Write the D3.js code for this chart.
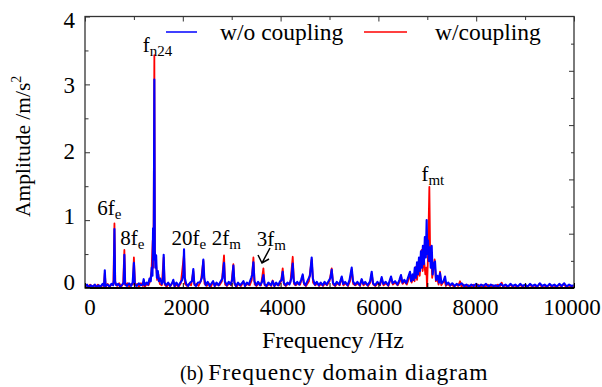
<!DOCTYPE html>
<html>
<head>
<meta charset="utf-8">
<script src="https://cdn.jsdelivr.net/npm/d3@7"></script>
<style>
  body { margin: 0; background: #fff; }
  svg { display: block; font-family: 'Liberation Serif', 'Times New Roman', serif; }
</style>
</head>
<body>
<div class="result"></div>
<script>
// Axis ticks and labels
const xTickLabels = [0, 2000, 4000, 6000, 8000, 10000];
const yTickLabels = [0, 1, 2, 3, 4];
const seriesNames = ['w/o coupling', 'w/coupling'];

// Spectrum without coupling [frequency Hz, amplitude m/s^2]
const woCoupling = [
  [0,0.02],[40,0.05],[80,0.01],[120,0.04],[160,0.02],[200,0.05],[240,0.01],[280,0.04],[320,0.02],[360,0.06],
  [390,0.03],[405,0.26],[420,0.03],[460,0.05],[500,0.02],[540,0.06],[575,0.04],[590,0.12],[602,0.87],[615,0.1],
  [640,0.04],[680,0.06],[720,0.02],[760,0.05],[790,0.08],[805,0.49],[820,0.06],[860,0.03],[900,0.07],[940,0.03],
  [975,0.08],[1000,0.37],[1020,0.05],[1060,0.03],[1100,0.07],[1140,0.04],[1180,0.05],[1200,0.13],[1220,0.04],[1260,0.08],
  [1290,0.05],[1320,0.14],[1345,0.1],[1365,0.3],[1380,0.18],[1392,0.88],[1405,0.42],[1418,3.07],[1428,0.55],[1440,0.3],
  [1455,0.48],[1470,0.15],[1490,0.25],[1510,0.1],[1540,0.14],[1570,0.06],[1595,0.12],[1609,0.49],[1625,0.08],[1660,0.04],
  [1700,0.08],[1740,0.03],[1780,0.07],[1806,0.12],[1830,0.03],[1870,0.08],[1910,0.03],[1950,0.08],[1990,0.12],[2010,0.2],
  [2025,0.57],[2040,0.15],[2070,0.06],[2110,0.03],[2150,0.08],[2190,0.1],[2215,0.28],[2235,0.06],[2270,0.03],[2310,0.08],
  [2350,0.08],[2390,0.15],[2420,0.42],[2440,0.14],[2470,0.04],[2510,0.09],[2550,0.03],[2590,0.07],[2620,0.1],[2650,0.03],
  [2690,0.08],[2730,0.04],[2770,0.09],[2810,0.14],[2843,0.37],[2860,0.1],[2900,0.04],[2940,0.09],[2980,0.05],[3010,0.12],
  [3034,0.33],[3055,0.08],[3090,0.03],[3130,0.08],[3170,0.04],[3210,0.07],[3240,0.1],[3270,0.03],[3310,0.08],[3350,0.05],
  [3400,0.15],[3420,0.2],[3444,0.38],[3465,0.1],[3500,0.04],[3540,0.09],[3580,0.04],[3620,0.09],[3648,0.19],[3670,0.06],
  [3710,0.03],[3750,0.08],[3800,0.04],[3838,0.1],[3870,0.03],[3910,0.08],[3950,0.04],[3990,0.1],[4020,0.12],[4043,0.24],
  [4065,0.08],[4100,0.04],[4140,0.08],[4180,0.05],[4220,0.14],[4248,0.36],[4270,0.1],[4300,0.05],[4340,0.09],[4380,0.05],
  [4420,0.12],[4452,0.2],[4475,0.08],[4510,0.04],[4560,0.12],[4600,0.18],[4636,0.45],[4660,0.14],[4700,0.05],[4740,0.09],
  [4780,0.04],[4820,0.08],[4860,0.04],[4900,0.09],[4940,0.05],[4980,0.1],[5020,0.15],[5045,0.27],[5070,0.08],[5110,0.04],
  [5150,0.09],[5200,0.05],[5250,0.17],[5280,0.06],[5320,0.09],[5370,0.04],[5410,0.12],[5454,0.3],[5480,0.1],[5520,0.05],
  [5570,0.09],[5620,0.04],[5658,0.13],[5690,0.06],[5730,0.09],[5780,0.04],[5830,0.1],[5863,0.24],[5890,0.07],[5930,0.04],
  [5980,0.09],[6030,0.05],[6067,0.16],[6100,0.06],[6150,0.09],[6200,0.04],[6258,0.17],[6290,0.07],[6340,0.1],[6390,0.05],
  [6430,0.12],[6462,0.19],[6490,0.08],[6530,0.12],[6570,0.07],[6610,0.16],[6646,0.24],[6670,0.1],[6700,0.2],[6720,0.12],
  [6745,0.3],[6765,0.15],[6790,0.38],[6810,0.2],[6830,0.45],[6850,0.25],[6870,0.54],[6890,0.3],[6910,0.62],[6930,0.35],
  [6950,0.75],[6970,0.45],[6987,1.0],[7000,0.5],[7015,0.7],[7030,0.4],[7050,0.6],[7070,0.3],[7090,0.62],[7110,0.2],
  [7130,0.35],[7158,0.39],[7180,0.12],[7210,0.18],[7240,0.08],[7260,0.22],[7290,0.07],[7330,0.1],[7362,0.17],[7390,0.05],
  [7430,0.08],[7470,0.04],[7510,0.07],[7560,0.03],[7600,0.06],[7650,0.04],[7700,0.07],[7750,0.03],[7800,0.05],[7850,0.02],
  [7900,0.05],[7950,0.03],[8000,0.06],[8050,0.02],[8100,0.05],[8150,0.03],[8200,0.06],[8250,0.02],[8300,0.05],[8350,0.03],
  [8400,0.04],[8450,0.02],[8500,0.06],[8550,0.03],[8600,0.05],[8650,0.02],[8700,0.06],[8750,0.03],[8800,0.05],[8850,0.02],
  [8900,0.06],[8950,0.03],[9000,0.05],[9050,0.02],[9100,0.06],[9150,0.03],[9200,0.05],[9250,0.02],[9300,0.07],[9350,0.03],
  [9400,0.05],[9450,0.02],[9500,0.06],[9550,0.03],[9600,0.05],[9650,0.02],[9700,0.06],[9750,0.03],[9800,0.07],[9850,0.02],
  [9900,0.05],[9950,0.03],[10000,0.04]
];

// Spectrum with coupling [frequency Hz, amplitude m/s^2]
const wCoupling = [
  [0,0.01],[25,0.04],[65,0.02],[105,0.05],[145,0.01],[185,0.04],[225,0.02],[265,0.05],[305,0.01],[345,0.04],
  [385,0.03],[405,0.22],[425,0.02],[465,0.06],[505,0.02],[545,0.05],[580,0.05],[602,0.95],[620,0.06],[660,0.03],
  [700,0.07],[740,0.02],[780,0.06],[805,0.56],[825,0.04],[865,0.07],[905,0.02],[945,0.06],[980,0.05],[1000,0.45],
  [1025,0.03],[1065,0.06],[1105,0.02],[1145,0.07],[1185,0.03],[1205,0.11],[1225,0.02],[1265,0.06],[1300,0.04],[1330,0.1],
  [1360,0.25],[1385,0.7],[1400,0.3],[1418,3.43],[1430,0.45],[1450,0.4],[1475,0.12],[1500,0.2],[1530,0.06],[1570,0.04],
  [1609,0.45],[1630,0.05],[1670,0.02],[1710,0.06],[1750,0.03],[1806,0.1],[1835,0.02],[1875,0.05],[1915,0.02],[1960,0.07],
  [2025,0.5],[2045,0.06],[2085,0.03],[2125,0.06],[2170,0.04],[2215,0.25],[2240,0.04],[2280,0.06],[2320,0.03],[2370,0.1],
  [2420,0.4],[2445,0.06],[2490,0.03],[2530,0.07],[2575,0.02],[2620,0.09],[2660,0.03],[2700,0.06],[2750,0.04],[2800,0.1],
  [2843,0.48],[2865,0.05],[2905,0.03],[2950,0.07],[2990,0.04],[3034,0.35],[3060,0.05],[3100,0.02],[3140,0.06],[3190,0.03],
  [3240,0.09],[3280,0.03],[3320,0.06],[3370,0.04],[3410,0.12],[3444,0.45],[3470,0.05],[3510,0.03],[3560,0.07],[3600,0.04],
  [3648,0.29],[3675,0.04],[3720,0.03],[3770,0.06],[3810,0.03],[3838,0.11],[3880,0.03],[3920,0.06],[3970,0.04],[4010,0.1],
  [4043,0.29],[4070,0.05],[4110,0.03],[4150,0.06],[4200,0.08],[4248,0.46],[4275,0.06],[4310,0.04],[4350,0.07],[4400,0.05],
  [4452,0.18],[4480,0.05],[4520,0.03],[4580,0.1],[4636,0.42],[4665,0.08],[4710,0.04],[4750,0.07],[4790,0.03],[4830,0.06],
  [4870,0.03],[4910,0.07],[4950,0.04],[5000,0.1],[5045,0.29],[5075,0.05],[5120,0.03],[5160,0.07],[5210,0.04],[5250,0.15],
  [5285,0.04],[5330,0.07],[5380,0.03],[5420,0.1],[5454,0.27],[5485,0.06],[5530,0.04],[5580,0.07],[5625,0.03],[5658,0.12],
  [5695,0.04],[5740,0.07],[5790,0.03],[5835,0.08],[5863,0.21],[5895,0.05],[5940,0.03],[5990,0.07],[6035,0.04],[6067,0.14],
  [6105,0.04],[6155,0.07],[6205,0.03],[6258,0.15],[6295,0.05],[6345,0.08],[6395,0.04],[6440,0.1],[6462,0.18],[6495,0.06],
  [6540,0.1],[6580,0.05],[6620,0.13],[6650,0.2],[6680,0.08],[6710,0.15],[6740,0.1],[6769,0.31],[6790,0.12],[6820,0.35],
  [6845,0.18],[6885,0.56],[6905,0.25],[6930,0.45],[6960,0.2],[6980,0.3],[6995,0.0],[7015,0.5],[7042,1.49],[7060,0.4],
  [7080,0.5],[7100,0.15],[7125,0.3],[7150,0.42],[7175,0.1],[7200,0.16],[7230,0.05],[7260,0.24],[7285,0.04],[7320,0.08],
  [7350,0.12],[7380,0.03],[7420,0.06],[7460,0.03],[7500,0.05],[7545,0.02],[7590,0.05],[7630,0.03],[7669,0.1],[7700,0.02],
  [7740,0.05],[7790,0.02],[7840,0.04],[7890,0.01],[7940,0.05],[7990,0.02],[8040,0.05],[8090,0.01],[8140,0.04],[8190,0.02],
  [8240,0.05],[8290,0.01],[8340,0.04],[8390,0.02],[8440,0.05],[8490,0.03],[8520,0.08],[8550,0.02],[8600,0.04],[8640,0.01],
  [8690,0.05],[8740,0.02],[8790,0.04],[8840,0.01],[8890,0.05],[8940,0.02],[8990,0.04],[9040,0.01],[9090,0.05],[9140,0.02],
  [9190,0.04],[9240,0.01],[9290,0.06],[9340,0.02],[9390,0.04],[9440,0.01],[9490,0.05],[9540,0.02],[9590,0.04],[9640,0.01],
  [9690,0.05],[9740,0.02],[9790,0.06],[9840,0.01],[9890,0.04],[9940,0.02],[10000,0.03]
];

// Peak annotations: label, subscript, x of text start (Hz), baseline (amplitude)
const notes = [
  { main: 'f', sub: 'n24', f: 1180, a: 3.48 },
  { main: '6f', sub: 'e', f: 250, a: 1.08 },
  { main: '8f', sub: 'e', f: 720, a: 0.64 },
  { main: '20f', sub: 'e', f: 1770, a: 0.64 },
  { main: '2f', sub: 'm', f: 2590, a: 0.64 },
  { main: '3f', sub: 'm', f: 3510, a: 0.62 },
  { main: 'f', sub: 'mt', f: 6880, a: 1.57 }
];

// Width and height
const w = 602;
const h = 387;
const plotLeft = 85, plotRight = 574, plotTop = 16.5, plotBottom = 288;

const svg = d3.select('.result')
  .append('svg')
  .attr('width', w)
  .attr('height', h);

// Scales
const xScale = d3.scaleLinear().domain([0, 10000]).range([plotLeft, plotRight]);
const yScale = d3.scaleLinear().domain([0, 4]).range([plotBottom, plotTop]);
// tick labels sit slightly off the tick marks in the original
const xLabelScale = d3.scaleLinear().domain([0, 10000]).range([90, 572]);
const yLabelScale = d3.scaleLinear().domain([0, 4]).range([289.5, 28]);

svg.append('clipPath').attr('id', 'plot')
  .append('rect')
  .attr('x', plotLeft).attr('y', plotTop)
  .attr('width', plotRight - plotLeft).attr('height', plotBottom - plotTop);

// Create lines (red behind, blue on top)
const line = d3.line()
  .x(function (d) { return xScale(d[0]); })
  .y(function (d) { return yScale(d[1]); });

const plot = svg.append('g').attr('clip-path', 'url(#plot)');
plot.append('path')
  .datum(wCoupling)
  .attr('d', line)
  .attr('fill', 'none')
  .attr('stroke', '#ff0000')
  .attr('stroke-width', 1.8)
  .attr('stroke-linejoin', 'round');
plot.append('path')
  .datum(woCoupling)
  .attr('d', line)
  .attr('fill', 'none')
  .attr('stroke', '#0000ff')
  .attr('stroke-width', 2.1)
  .attr('stroke-linejoin', 'round');

// Frame
svg.append('rect')
  .attr('x', plotLeft).attr('y', plotTop)
  .attr('width', plotRight - plotLeft).attr('height', plotBottom - plotTop)
  .attr('fill', 'none')
  .attr('stroke', '#333')
  .attr('stroke-width', 1.3);
svg.append('line')
  .attr('x1', plotLeft).attr('x2', plotRight)
  .attr('y1', plotBottom).attr('y2', plotBottom)
  .attr('stroke', '#000').attr('stroke-width', 2);

// Inward tick marks
const xTicks = d3.range(0, 10001, 1000);
svg.append('g')
  .attr('transform', 'translate(0,' + plotTop + ')')
  .call(d3.axisBottom(xScale).tickValues(xTicks).tickSize(5).tickFormat(''))
  .call(g => g.select('.domain').remove())
  .call(g => g.selectAll('.tick line').attr('y2', function (d) { return d % 2000 === 0 ? 5 : 3.5; }).attr('stroke', '#333'));
svg.append('g')
  .attr('transform', 'translate(0,' + plotBottom + ')')
  .call(d3.axisTop(xScale).tickValues(xTicks).tickSize(5).tickFormat(''))
  .call(g => g.select('.domain').remove());

svg.append('g')
  .attr('transform', 'translate(' + plotLeft + ',0)')
  .call(d3.axisRight(yScale).tickValues(d3.range(0, 4.01, 0.5)).tickSize(5).tickFormat(''))
  .call(g => g.select('.domain').remove())
  .call(g => g.selectAll('.tick line').attr('x2', function (d) { return d % 1 === 0 ? 5 : 3.5; }).attr('stroke', '#333'));
svg.append('g')
  .attr('transform', 'translate(' + plotRight + ',0)')
  .call(d3.axisLeft(yScale).tickValues(d3.range(1, 10).map(function (i) { return i * 0.4; })).tickSize(5).tickFormat(''))
  .call(g => g.select('.domain').remove())
  .call(g => g.selectAll('.tick line').attr('x2', function (d, i) { return i % 2 === 1 ? -5 : -3; }).attr('stroke', '#333'));

// Tick labels
svg.append('g')
  .selectAll('text')
  .data(xTickLabels)
  .enter()
  .append('text')
  .attr('x', function (d) { return xLabelScale(d); })
  .attr('y', 315)
  .attr('text-anchor', 'middle')
  .attr('font-size', 23)
  .text(function (d) { return d; });
svg.append('g')
  .selectAll('text')
  .data(yTickLabels)
  .enter()
  .append('text')
  .attr('x', 75)
  .attr('y', function (d) { return yLabelScale(d); })
  .attr('text-anchor', 'end')
  .attr('font-size', 23)
  .text(function (d) { return d; });

// Axis titles
svg.append('text')
  .attr('x', 333).attr('y', 348)
  .attr('text-anchor', 'middle')
  .attr('font-size', 24)
  .text('Frequency /Hz');
const yTitle = svg.append('text')
  .attr('transform', 'translate(30,217) rotate(-90)')
  .attr('font-size', 21.5);
yTitle.append('tspan').text('Amplitude /m/s');
yTitle.append('tspan').attr('font-size', 14).attr('dy', -9).text('2');

// Caption
const cap = svg.append('text')
  .attr('x', 180).attr('y', 380)
  .attr('font-size', 20);
cap.append('tspan').text('(b) ');
cap.append('tspan').attr('font-size', 23.5).attr('letter-spacing', 0.9).text('Frequency domain diagram');

// Legend
const legend = svg.append('g');
legend.append('line').attr('x1', 166).attr('x2', 197).attr('y1', 32).attr('y2', 32)
  .attr('stroke', '#0000ff').attr('stroke-width', 1.5);
legend.append('text').attr('x', 220).attr('y', 40).attr('font-size', 23.5).text(seriesNames[0]);
legend.append('line').attr('x1', 364).attr('x2', 407).attr('y1', 32).attr('y2', 32)
  .attr('stroke', '#ff0000').attr('stroke-width', 1.5);
legend.append('text').attr('x', 435).attr('y', 40).attr('font-size', 23.5).text(seriesNames[1]);

// Peak labels
const labels = svg.append('g')
  .selectAll('text')
  .data(notes)
  .enter()
  .append('text')
  .attr('x', function (d) { return xScale(d.f); })
  .attr('y', function (d) { return yScale(d.a); })
  .attr('font-size', 21);
labels.append('tspan').text(function (d) { return d.main; });
labels.append('tspan').attr('font-size', 15).attr('dy', 4).text(function (d) { return d.sub; });

// Arrow to 3fm peak
svg.append('path')
  .attr('d', 'M270,248 L262,263 M258,255 L262,263 L269,259')
  .attr('fill', 'none')
  .attr('stroke', '#000')
  .attr('stroke-width', 1.5);
</script>
</body>
</html>
